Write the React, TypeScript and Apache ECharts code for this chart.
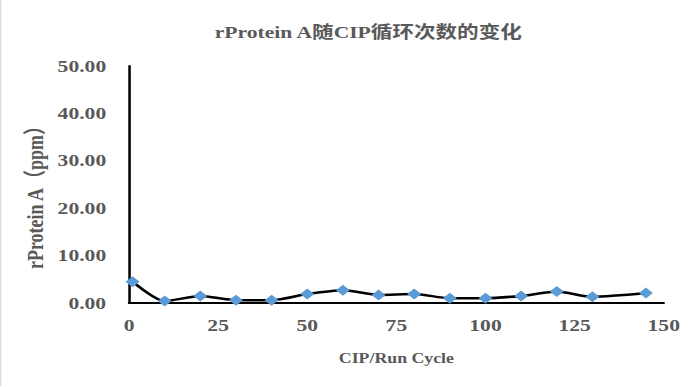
import React, { useEffect, useRef } from "react";
import * as echarts from "echarts";

const cycles = [1, 10, 20, 30, 40, 50, 60, 70, 80, 90, 100, 110, 120, 130, 145];
const proteinA = [4.5, 0.4, 1.5, 0.6, 0.6, 1.9, 2.7, 1.7, 1.9, 1.0, 1.0, 1.5, 2.4, 1.3, 2.1];
const titleText = "rProtein A随CIP循环次数的变化";
const xName = "CIP/Run Cycle";
const yName = "rProtein A（ppm）";

const STRETCH = 1.27;
const W = 700;
const H = 387;
const innerW = W / STRETCH;
const FONT = "'Liberation Serif', 'Noto Sans CJK SC', serif";
const GRAY = "#595959";

export default function App() {
  const ref = useRef<HTMLDivElement>(null);
  useEffect(() => {
    document.body.style.margin = "0";
    if (!ref.current) return;
    const chart = echarts.init(ref.current, undefined, { renderer: "svg" });
    chart.setOption({
      animation: false,
      backgroundColor: "#ffffff",
      title: {
        text: titleText,
        left: 285,
        top: 19,
        textAlign: "center",
        textStyle: { fontFamily: FONT, fontSize: 17, fontWeight: "bold", color: GRAY },
      },
      grid: { left: 101.6, right: innerW - 522.8, top: 66, bottom: 84, containLabel: false },
      xAxis: {
        type: "value",
        min: 0,
        max: 150,
        interval: 25,
        name: xName,
        nameLocation: "middle",
        nameGap: 48,
        nameTextStyle: { fontFamily: FONT, fontSize: 14, fontWeight: "bold", color: GRAY },
        axisLine: { show: true, onZero: false, lineStyle: { color: "#000", width: 2 } },
        axisTick: { show: false },
        splitLine: { show: false },
        axisLabel: { fontFamily: FONT, fontSize: 17, fontWeight: "bold", color: GRAY, margin: 14 },
      },
      yAxis: {
        type: "value",
        min: 0,
        max: 50,
        interval: 10,
        axisLine: { show: true, lineStyle: { color: "#000", width: 2 } },
        axisTick: { show: false },
        splitLine: { show: false },
        axisLabel: {
          fontFamily: FONT,
          fontSize: 17,
          fontWeight: "bold",
          color: GRAY,
          margin: 18,
          formatter: (v: number) => v.toFixed(2),
        },
      },
      graphic: [
        {
          type: "text",
          x: 27.6,
          y: 193,
          rotation: Math.PI / 2,
          style: {
            text: yName,
            fontFamily: FONT,
            fontSize: 18,
            fontWeight: "bold",
            fill: GRAY,
            align: "center",
            verticalAlign: "middle",
          },
        },
        {
          type: "line",
          shape: { x1: 0.5, y1: 0, x2: 0.5, y2: H - 1 },
          style: { stroke: "#d9d9d9", lineWidth: 1 },
        },
      ],
      series: [
        {
          type: "line",
          data: cycles.map((c, i) => [c, proteinA[i]]),
          smooth: 0.25,
          symbol: "diamond",
          symbolSize: 11,
          lineStyle: { color: "#000", width: 2.5 },
          itemStyle: { color: "#5B9BD5" },
          z: 3,
        },
      ],
    });
    return () => chart.dispose();
  }, []);
  return (
    <div style={{ width: W, height: H, overflow: "hidden", position: "relative" }}>
      <div
        ref={ref}
        style={{
          width: innerW,
          height: H,
          transform: `scaleX(${STRETCH})`,
          transformOrigin: "0 0",
        }}
      />
    </div>
  );
}
